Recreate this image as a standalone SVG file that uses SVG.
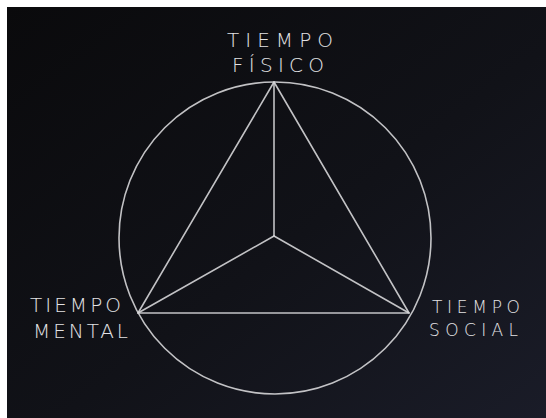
<svg xmlns="http://www.w3.org/2000/svg" width="546" height="418" viewBox="0 0 546 418">
  <defs>
    <linearGradient id="board" x1="0" y1="0" x2="1" y2="1">
      <stop offset="0" stop-color="#0a0a0c"/>
      <stop offset="0.55" stop-color="#111218"/>
      <stop offset="1" stop-color="#1a1c28"/>
    </linearGradient>
    <style>
      .chalk { fill: none; stroke: #d6d6d8; stroke-width: 1.6; stroke-linecap: round; stroke-linejoin: round; opacity: 0.9; }
      .lbl { font-family: "DejaVu Sans", "Liberation Sans", sans-serif; font-size: 20px; fill: #e2e2e4; font-weight: 300; }
      .sm { font-size: 17px; }
    </style>
  </defs>
  <rect x="0" y="0" width="546" height="418" fill="#ffffff"/>
  <rect x="7" y="7" width="539" height="411" fill="url(#board)"/>

  <g id="connectors">
    <circle class="chalk" cx="275" cy="238" r="156"/>
    <polygon class="chalk" points="274,82 138,313 409,313"/>
    <line class="chalk" x1="274" y1="82" x2="274" y2="236"/>
    <line class="chalk" x1="138" y1="313" x2="274" y2="236"/>
    <line class="chalk" x1="409" y1="313" x2="274" y2="236"/>
  </g>

  <g id="tiempo-fisico">
    <text class="lbl" x="227" y="47" textLength="106" lengthAdjust="spacing">TIEMPO</text>
    <text class="lbl" x="232" y="72" textLength="92" lengthAdjust="spacing">FÍSICO</text>
  </g>
  <g id="tiempo-mental">
    <text class="lbl" x="30" y="312" textLength="91" lengthAdjust="spacing">TIEMPO</text>
    <text class="lbl" x="33" y="338" textLength="95" lengthAdjust="spacing">MENTAL</text>
  </g>
  <g id="tiempo-social">
    <text class="lbl sm" x="432" y="313" textLength="88" lengthAdjust="spacing">TIEMPO</text>
    <text class="lbl sm" x="429" y="336" textLength="89" lengthAdjust="spacing">SOCIAL</text>
  </g>
</svg>
